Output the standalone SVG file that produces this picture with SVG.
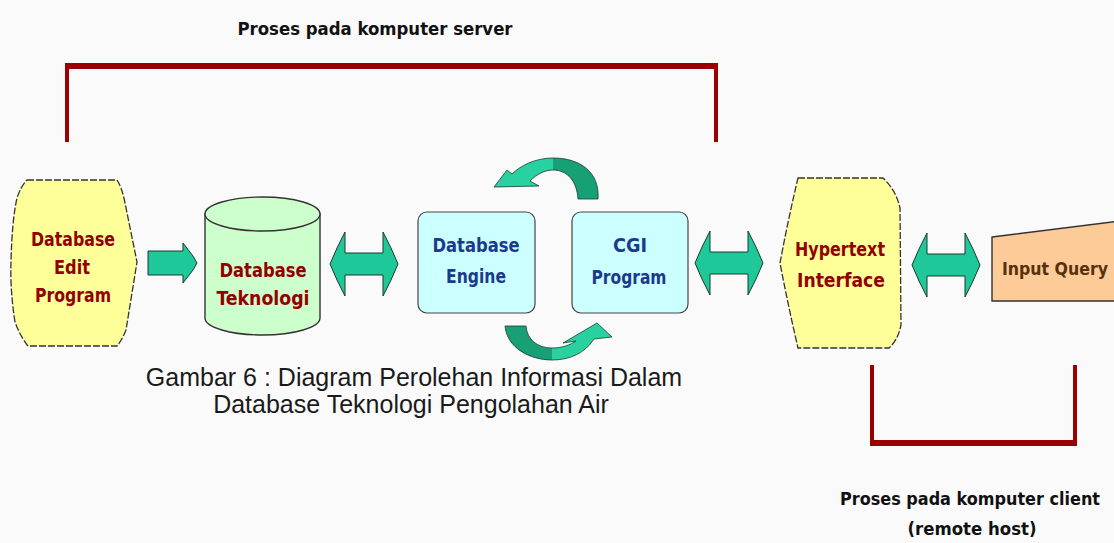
<svg xmlns="http://www.w3.org/2000/svg" width="1114" height="543" viewBox="0 0 1114 543">
  <defs>
    <style>
      .lbl { font-family: "DejaVu Sans Condensed", "Liberation Sans Narrow", "Liberation Sans", sans-serif; font-weight: bold; font-size: 20px; text-anchor: middle; }
      .red { fill: #920000; }
      .blue { fill: #1b3a8c; }
      .brown { fill: #5a300c; }
      .note { font-family: "DejaVu Sans Condensed", "Liberation Sans Narrow", "Liberation Sans", sans-serif; font-weight: bold; font-size: 18px; fill: #111; text-anchor: middle; }
      .caption { font-family: "Liberation Sans", Arial, sans-serif; font-size: 25px; fill: #1a1a1a; text-anchor: middle; }
      .scroll { fill: #ffff99; stroke: #333; stroke-width: 1.3; stroke-dasharray: 7 2; }
      .box { fill: #ccffff; stroke: #444; stroke-width: 1.2; }
      .arrow { fill: #1fc899; stroke: #1a3a30; stroke-width: 1; stroke-linejoin: miter; }
      .bend { stroke: #1a3a30; stroke-width: 0.8; }
      .bracket { stroke: #9b0000; fill: none; }
    </style>
    <!-- double-headed block arrow, centred on the origin -->
    <path id="dbl" d="M-34,0 L-27,-16 L-19,-32 L-19,-11 L19,-11 L19,-32 L27,-16 L34,0 L27,16 L19,32 L19,11 L-19,11 L-19,32 L-27,16 Z"/>
    <linearGradient id="topShade" gradientUnits="userSpaceOnUse" x1="494" y1="0" x2="600" y2="0">
      <stop offset="0" stop-color="#2ad1a0"/>
      <stop offset="0.557" stop-color="#2ad1a0"/>
      <stop offset="0.557" stop-color="#17a076"/>
      <stop offset="1" stop-color="#17a076"/>
    </linearGradient>
    <linearGradient id="botShade" gradientUnits="userSpaceOnUse" x1="505" y1="0" x2="612" y2="0">
      <stop offset="0" stop-color="#17a076"/>
      <stop offset="0.44" stop-color="#17a076"/>
      <stop offset="0.44" stop-color="#2ad1a0"/>
      <stop offset="1" stop-color="#2ad1a0"/>
    </linearGradient>
  </defs>

  <rect width="1114" height="543" fill="#fafafa"/>

  <!-- server-side bracket -->
  <g id="server-bracket">
    <text class="note" x="375" y="35" textLength="275" lengthAdjust="spacingAndGlyphs">Proses pada komputer server</text>
    <line class="bracket" x1="65" y1="66" x2="718" y2="66" stroke-width="6"/>
    <line class="bracket" x1="67" y1="63" x2="67" y2="142" stroke-width="4"/>
    <line class="bracket" x1="716" y1="63" x2="716" y2="142" stroke-width="4"/>
  </g>

  <!-- client-side bracket -->
  <g id="client-bracket">
    <line class="bracket" x1="872" y1="365" x2="872" y2="446" stroke-width="4"/>
    <line class="bracket" x1="1075" y1="365" x2="1075" y2="446" stroke-width="4"/>
    <line class="bracket" x1="870" y1="443" x2="1077" y2="443" stroke-width="6"/>
    <text class="note" x="970" y="505" textLength="260" lengthAdjust="spacingAndGlyphs">Proses pada komputer client</text>
    <text class="note" x="972" y="535" textLength="129" lengthAdjust="spacingAndGlyphs">(remote host)</text>
  </g>

  <!-- nodes -->
  <g id="edit-program">
    <path class="scroll" d="M27,180 L117,180 Q121,186 124,198 L137,262 L126,330 Q122,340 117,346 L28,346 Q20,336 15,322 Q10,290 11,262 Q12,220 17,198 Q21,186 27,180 Z"/>
    <text class="lbl red" x="73" y="246" textLength="84" lengthAdjust="spacingAndGlyphs">Database</text>
    <text class="lbl red" x="72" y="274" textLength="36" lengthAdjust="spacingAndGlyphs">Edit</text>
    <text class="lbl red" x="73" y="302" textLength="76" lengthAdjust="spacingAndGlyphs">Program</text>
  </g>

  <g id="database-teknologi">
    <path d="M205,214 L205,318 A57.5,17 0 0 0 320,318 L320,214 Z" fill="#ccffcc" stroke="#333" stroke-width="1.4"/>
    <ellipse cx="262.5" cy="214" rx="57.5" ry="17" fill="#ccffcc" stroke="#333" stroke-width="1.4"/>
    <text class="lbl red" x="263" y="277" textLength="87" lengthAdjust="spacingAndGlyphs">Database</text>
    <text class="lbl red" x="263" y="305" textLength="93" lengthAdjust="spacingAndGlyphs">Teknologi</text>
  </g>

  <g id="database-engine">
    <rect class="box" x="418" y="212" width="117" height="101" rx="9"/>
    <text class="lbl blue" x="476" y="252" textLength="87" lengthAdjust="spacingAndGlyphs">Database</text>
    <text class="lbl blue" x="476" y="283" textLength="60" lengthAdjust="spacingAndGlyphs">Engine</text>
  </g>

  <g id="cgi-program">
    <rect class="box" x="572" y="212" width="116" height="101" rx="9"/>
    <text class="lbl blue" x="630" y="252" textLength="34" lengthAdjust="spacingAndGlyphs">CGI</text>
    <text class="lbl blue" x="629" y="284" textLength="75" lengthAdjust="spacingAndGlyphs">Program</text>
  </g>

  <g id="hypertext-interface">
    <path class="scroll" d="M798,178 L883,178 Q896,190 900,208 L901,325 Q898,340 889,348 L798,348 Q788,305 780,263 Q788,220 798,178 Z"/>
    <text class="lbl red" x="840" y="256" textLength="90" lengthAdjust="spacingAndGlyphs">Hypertext</text>
    <text class="lbl red" x="841" y="287" textLength="88" lengthAdjust="spacingAndGlyphs">Interface</text>
  </g>

  <g id="input-query">
    <path d="M992,237 L1120,221 L1120,301 L992,301 Z" fill="#fccb98" stroke="#333" stroke-width="1.4"/>
    <text class="lbl brown" x="1002" y="275" style="text-anchor:start; font-size:17px" textLength="106" lengthAdjust="spacingAndGlyphs">Input Query</text>
  </g>

  <!-- connectors -->
  <g id="connectors">
    <path class="arrow" d="M148,251 L183,251 L183,243 L193,256 L197,263 L193,270 L183,283 L183,275 L148,275 Z"/>
    <use href="#dbl" class="arrow" transform="translate(364,264)"/>
    <use href="#dbl" class="arrow" transform="translate(729,263)"/>
    <use href="#dbl" class="arrow" transform="translate(946,265)"/>
    <!-- loop between engine and CGI program -->
    <path class="bend" fill="url(#topShade)" d="M598,199 C600,172 580,158 553,158 C535,158 520,166 512,174 L507,170 L494,187 L539,186 L530,181 C537,174 545,170 553,170 C568,170 577,182 578,199 Z"/>
    <path class="bend" fill="url(#botShade)" d="M505,326 L526,326 C527,340 538,348 552,348 C562,348 570,345 576,341 L563,343 L597,323 L612,337 L594,339 C585,353 570,360 552,360 C530,360 507,348 505,326 Z"/>
  </g>

  <g id="caption">
    <text class="caption" x="414" y="386">Gambar 6 : Diagram Perolehan Informasi Dalam</text>
    <text class="caption" x="411" y="413">Database Teknologi Pengolahan Air</text>
  </g>
</svg>
